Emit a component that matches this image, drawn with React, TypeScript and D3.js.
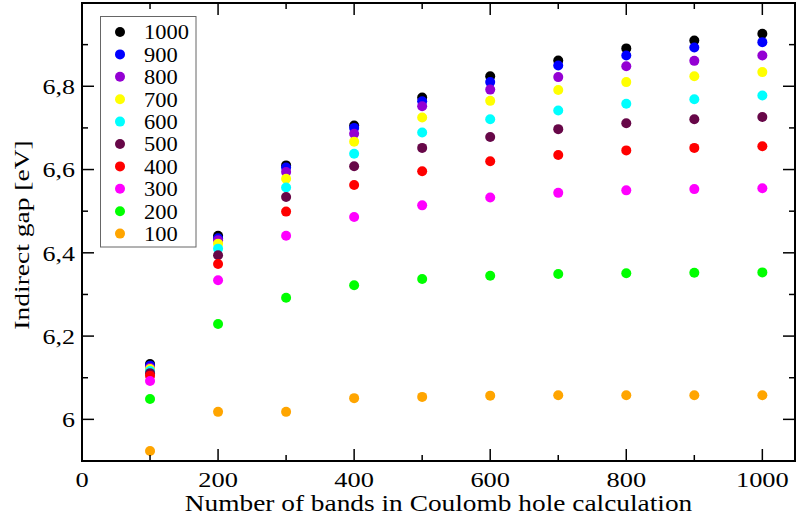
import * as d3 from 'd3'

const bands = [100, 200, 300, 400, 500, 600, 700, 800, 900, 1000]

const seriesNames = ['1000', '900', '800', '700', '600', '500', '400', '300', '200', '100']
const seriesColors = ['#000000', '#0000ff', '#9400d3', '#ffff00', '#00ffff', '#670748', '#ff0000', '#ff00ff', '#00ff00', '#ffa500']

// indirect gap per series (eV), one value per entry in bands
const gap1000 = [6.133, 6.441, 6.610, 6.706, 6.773, 6.824, 6.862, 6.891, 6.910, 6.926]
const gap900 = [6.129, 6.435, 6.605, 6.700, 6.764, 6.810, 6.850, 6.874, 6.893, 6.906]
const gap800 = [6.124, 6.430, 6.594, 6.686, 6.752, 6.792, 6.822, 6.848, 6.861, 6.874]
const gap700 = [6.121, 6.422, 6.578, 6.667, 6.725, 6.765, 6.791, 6.810, 6.824, 6.834]
const gap600 = [6.116, 6.410, 6.557, 6.638, 6.689, 6.721, 6.742, 6.758, 6.769, 6.778]
const gap500 = [6.111, 6.394, 6.534, 6.608, 6.652, 6.678, 6.697, 6.711, 6.721, 6.726]
const gap400 = [6.105, 6.373, 6.499, 6.563, 6.596, 6.620, 6.635, 6.646, 6.652, 6.656]
const gap300 = [6.092, 6.334, 6.441, 6.486, 6.514, 6.533, 6.544, 6.550, 6.553, 6.555]
const gap200 = [6.049, 6.229, 6.292, 6.322, 6.337, 6.345, 6.349, 6.351, 6.352, 6.353]
const gap100 = [5.924, 6.018, 6.018, 6.051, 6.054, 6.057, 6.058, 6.058, 6.058, 6.058]

const seriesValues = [gap1000, gap900, gap800, gap700, gap600, gap500, gap400, gap300, gap200, gap100]

const xMajor = [0, 200, 400, 600, 800, 1000]
const xMinor = [100, 300, 500, 700, 900]
const yMajor = [6, 6.2, 6.4, 6.6, 6.8]
const yMinor = [5.9, 6.1, 6.3, 6.5, 6.7, 6.9]

const font = '"Liberation Serif", "Times New Roman", serif'

// text stretched along its run, the reference font is wider than Liberation Serif
function Label({ x, y, size, stretch, anchor = 'start', rotate = 0, dy, children }: any) {
  return (
    <g transform={`translate(${x},${y}) rotate(${rotate}) scale(${stretch},1)`}>
      <text fontSize={size} textAnchor={anchor} dy={dy} fill="#000">{children}</text>
    </g>
  )
}

export default function App() {
  const width = 796
  const height = 522
  const left = 82
  const right = 795
  const top = 3
  const bottom = 461

  const x = d3.scaleLinear().domain([0, 1048]).range([left, right])
  const y = d3.scaleLinear().domain([5.9, 7.0]).range([bottom, top])

  const fmt = (v: number) => d3.format('.1~f')(v).replace('.', ',')

  return (
    <svg width={width} height={height} style={{ position: 'absolute', left: 0, top: 0, background: '#fff' }} fontFamily={font}>
      {seriesValues.map((vals, si) => (
        <g key={seriesNames[si]} fill={seriesColors[si]}>
          {vals.map((v, i) => (
            <circle key={i} cx={x(bands[i])} cy={y(v)} r={5} />
          ))}
        </g>
      ))}

      <g stroke="#000" strokeWidth={1.5}>
        {xMajor.map(t => (
          <g key={'xm' + t}>
            <line x1={x(t)} x2={x(t)} y1={bottom} y2={bottom - 12} />
            <line x1={x(t)} x2={x(t)} y1={top} y2={top + 12} />
          </g>
        ))}
        {xMinor.map(t => (
          <g key={'xn' + t}>
            <line x1={x(t)} x2={x(t)} y1={bottom} y2={bottom - 6} />
            <line x1={x(t)} x2={x(t)} y1={top} y2={top + 6} />
          </g>
        ))}
        {yMajor.map(t => (
          <g key={'ym' + t}>
            <line x1={left} x2={left + 12} y1={y(t)} y2={y(t)} />
            <line x1={right} x2={right - 12} y1={y(t)} y2={y(t)} />
          </g>
        ))}
        {yMinor.map(t => (
          <g key={'yn' + t}>
            <line x1={left} x2={left + 6} y1={y(t)} y2={y(t)} />
            <line x1={right} x2={right - 6} y1={y(t)} y2={y(t)} />
          </g>
        ))}
      </g>

      <rect x={left} y={top} width={right - left} height={bottom - top} fill="none" stroke="#000" strokeWidth={2} />

      {xMajor.map(t => (
        <Label key={'xl' + t} x={x(t)} y={487} size={22} stretch={1.2} anchor="middle">{t}</Label>
      ))}
      {yMajor.map(t => (
        <Label key={'yl' + t} x={75} y={y(t)} size={22} stretch={1.18} anchor="end" dy="0.35em">{fmt(t)}</Label>
      ))}
      <Label x={(left + right) / 2} y={511} size={23} stretch={1.19} anchor="middle">Number of bands in Coulomb hole calculation</Label>
      <Label x={29} y={(top + bottom) / 2 + 3} size={22} stretch={1.25} anchor="middle" rotate={-90}>Indirect gap [eV]</Label>

      <rect x={100.5} y={16.5} width={95.5} height={230.5} fill="#fff" stroke="#666" strokeWidth={1} />
      {seriesNames.map((name, i) => {
        const cy = 32 + i * 22.4
        return (
          <g key={'lg' + name}>
            <circle cx={120} cy={cy} r={5} fill={seriesColors[i]} />
            <Label x={144} y={cy} size={21} stretch={1.07} dy="0.35em">{name}</Label>
          </g>
        )
      })}
    </svg>
  )
}
